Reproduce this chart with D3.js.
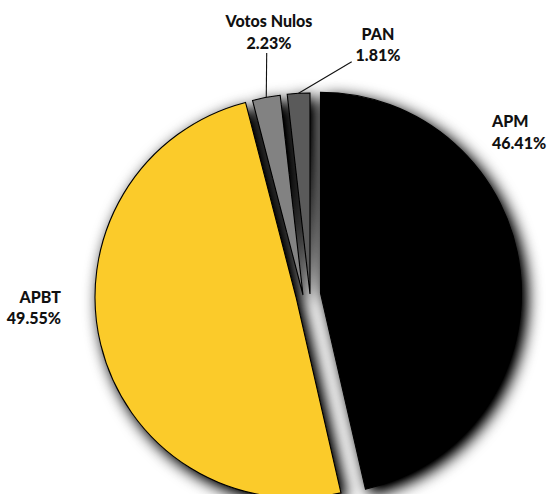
<!DOCTYPE html>
<html>
<head>
<meta charset="utf-8">
<script src="https://cdn.jsdelivr.net/npm/d3@7"></script>
<style>
  html, body { margin: 0; padding: 0; background: #ffffff; }
  svg { display: block; }
  text { font-family: Lato, "Open Sans", sans-serif; font-weight: 900; fill: #111; }
</style>
</head>
<body>
<svg id="chart" width="547" height="494"></svg>
<script>
// ---- data ----
const categories = ["APM", "APBT", "Votos Nulos", "PAN"];
const values = [46.41, 49.55, 2.23, 1.81];
const valueLabels = ["46.41%", "49.55%", "2.23%", "1.81%"];

// ---- style / layout ----
const colors = ["#000000", "#FBCB2C", "#828282", "#5A5A5A"];
const W = 547, H = 494;
const baseCenter = [309, 295];
const radius = 201;
// per-slice separation shift (exploded layout)
const sliceShift = [[11.5, -1.7], [-13, 2], [-6, 0], [1, -1]];
// label anchor (x, first baseline) and alignment
const labelPos = [[492, 127], [61, 302.5], [269, 27], [378, 39.5]];
const labelAnchor = ["start", "end", "middle", "middle"];
const lineGap = 21.5;
const leaderEnds = [null, null, [266.7, 53], [351.7, 61.7]];

const svg = d3.select("#chart");
const defs = svg.append("defs");
const f = defs.append("filter").attr("id", "shadow")
  .attr("x", "-20%").attr("y", "-20%").attr("width", "140%").attr("height", "140%");
f.append("feGaussianBlur").attr("in", "SourceAlpha").attr("stdDeviation", 8).attr("result", "b");
f.append("feOffset").attr("in", "b").attr("dx", 5).attr("dy", 5).attr("result", "o");
const ct = f.append("feComponentTransfer").attr("in", "o").attr("result", "s");
ct.append("feFuncA").attr("type", "linear").attr("slope", 1.25);
const m = f.append("feMerge");
m.append("feMergeNode").attr("in", "s");
m.append("feMergeNode").attr("in", "SourceGraphic");

const pie = d3.pie().sort(null).value(d => d)
  .startAngle(0).endAngle(2 * Math.PI);
const arcs = pie(values);
const arc = d3.arc().innerRadius(0).outerRadius(radius);

const gPie = svg.append("g").attr("filter", "url(#shadow)");
gPie.selectAll("path").data(arcs).enter().append("path")
  .attr("transform", (d, i) => `translate(${baseCenter[0] + sliceShift[i][0]},${baseCenter[1] + sliceShift[i][1]})`)
  .attr("d", arc)
  .attr("fill", (d, i) => colors[i])
  .attr("stroke", "#000")
  .attr("stroke-width", 1.1)
  .attr("stroke-linejoin", "miter");

// leader lines
arcs.forEach((d, i) => {
  if (!leaderEnds[i]) return;
  const a = (d.startAngle + d.endAngle) / 2;
  const cx = baseCenter[0] + sliceShift[i][0], cy = baseCenter[1] + sliceShift[i][1];
  const px = cx + radius * Math.sin(a), py = cy - radius * Math.cos(a);
  svg.append("line")
    .attr("x1", px).attr("y1", py)
    .attr("x2", leaderEnds[i][0]).attr("y2", leaderEnds[i][1])
    .attr("stroke", "#111").attr("stroke-width", 1.1);
});

// labels
const gLab = svg.append("g");
categories.forEach((c, i) => {
  const t = gLab.append("text")
    .attr("x", labelPos[i][0]).attr("y", labelPos[i][1])
    .attr("text-anchor", labelAnchor[i])
    .attr("font-size", 16);
  t.append("tspan").attr("x", labelPos[i][0]).text(c);
  t.append("tspan").attr("x", labelPos[i][0]).attr("dy", lineGap).text(valueLabels[i]);
});
</script>
</body>
</html>
